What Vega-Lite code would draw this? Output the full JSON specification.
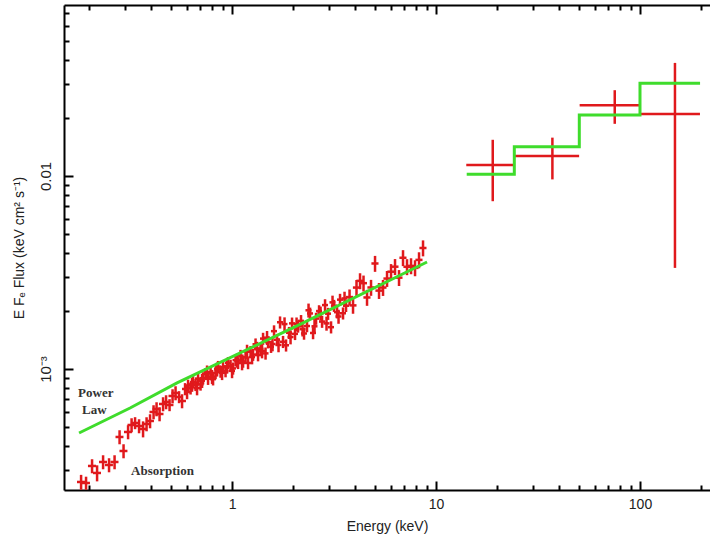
{
  "$schema": "https://vega.github.io/schema/vega-lite/v6.json",
  "width": 646,
  "height": 485,
  "autosize": {"type": "none"},
  "padding": {"left": 64, "top": 5, "right": 0, "bottom": 46},
  "background": "white",
  "config": {
    "view": {"stroke": null},
    "axis": {
      "grid": false,
      "domainColor": "black",
      "domainWidth": 2,
      "tickColor": "black",
      "tickWidth": 2,
      "labelFont": "Liberation Sans",
      "labelFontSize": 14,
      "labelColor": "#222",
      "titleFont": "Liberation Sans",
      "titleFontSize": 14,
      "titleFontWeight": "normal",
      "titleColor": "#222"
    }
  },
  "datasets": {
    "obs": [
      {"e":0.1819,"de":0.0082,"f":2.597e-4,"df":2.3e-5},
      {"e":0.1924,"de":0.0087,"f":2.566e-4,"df":2.0e-5},
      {"e":0.2059,"de":0.0093,"f":3.144e-4,"df":2.63e-5},
      {"e":0.2179,"de":0.0098,"f":2.892e-4,"df":2.76e-5},
      {"e":0.2332,"de":0.0105,"f":3.297e-4,"df":2.75e-5},
      {"e":0.2494,"de":0.0112,"f":3.181e-4,"df":2.66e-5},
      {"e":0.2655,"de":0.012,"f":3.297e-4,"df":2.75e-5},
      {"e":0.2809,"de":0.0126,"f":4.443e-4,"df":3.71e-5},
      {"e":0.2938,"de":0.0132,"f":3.759e-4,"df":3.14e-5},
      {"e":0.3092,"de":0.0139,"f":4.716e-4,"df":3.94e-5},
      {"e":0.3217,"de":0.0145,"f":5.126e-4,"df":4.28e-5},
      {"e":0.3346,"de":0.0151,"f":5.25e-4,"df":3.76e-5},
      {"e":0.35,"de":0.0158,"f":5.066e-4,"df":4.23e-5},
      {"e":0.3662,"de":0.0165,"f":4.887e-4,"df":4.66e-5},
      {"e":0.381,"de":0.0171,"f":5.188e-4,"df":4.33e-5},
      {"e":0.3963,"de":0.0178,"f":5.377e-4,"df":4.49e-5},
      {"e":0.4123,"de":0.0186,"f":5.987e-4,"df":5.0e-5},
      {"e":0.4265,"de":0.0192,"f":6.204e-4,"df":5.18e-5},
      {"e":0.4412,"de":0.0199,"f":5.845e-4,"df":4.88e-5},
      {"e":0.459,"de":0.0207,"f":6.587e-4,"df":5.5e-5},
      {"e":0.4748,"de":0.0214,"f":6.745e-4,"df":5.63e-5},
      {"e":0.4939,"de":0.0222,"f":6.509e-4,"df":4.66e-5},
      {"e":0.5109,"de":0.023,"f":7.246e-4,"df":6.05e-5},
      {"e":0.5285,"de":0.0238,"f":7.509e-4,"df":6.27e-5},
      {"e":0.5498,"de":0.0247,"f":7.16e-4,"df":5.13e-5},
      {"e":0.5687,"de":0.0256,"f":6.826e-4,"df":5.7e-5},
      {"e":0.5883,"de":0.020,"f":7.877e-4,"df":5.7e-5},
      {"e":0.6017,"de":0.020,"f":7.600e-4,"df":6.3e-5},
      {"e":0.6086,"de":0.021,"f":8.214e-4,"df":5.9e-5},
      {"e":0.6261,"de":0.021,"f":7.943e-4,"df":5.7e-5},
      {"e":0.6366,"de":0.022,"f":8.304e-4,"df":6.9e-5},
      {"e":0.644,"de":0.022,"f":8.553e-4,"df":6.2e-5},
      {"e":0.6625,"de":0.023,"f":8.283e-4,"df":6.0e-5},
      {"e":0.6736,"de":0.023,"f":7.962e-4,"df":6.6e-5},
      {"e":0.6813,"de":0.023,"f":8.918e-4,"df":6.4e-5},
      {"e":0.7008,"de":0.024,"f":8.323e-4,"df":6.0e-5},
      {"e":0.7128,"de":0.024,"f":8.698e-4,"df":7.3e-5},
      {"e":0.7208,"de":0.025,"f":8.959e-4,"df":6.5e-5},
      {"e":0.7413,"de":0.025,"f":9.432e-4,"df":6.8e-5},
      {"e":0.7542,"de":0.026,"f":9.625e-4,"df":8.0e-5},
      {"e":0.7627,"de":0.026,"f":8.906e-4,"df":6.4e-5},
      {"e":0.7846,"de":0.027,"f":9.478e-4,"df":6.8e-5},
      {"e":0.798,"de":0.027,"f":9.123e-4,"df":7.6e-5},
      {"e":0.807,"de":0.027,"f":8.855e-4,"df":6.4e-5},
      {"e":0.83,"de":0.028,"f":9.535e-4,"df":6.9e-5},
      {"e":0.8443,"de":0.029,"f":9.963e-4,"df":8.3e-5},
      {"e":0.854,"de":0.029,"f":1.0266e-3,"df":7.4e-5},
      {"e":0.8783,"de":0.030,"f":9.705e-4,"df":7.0e-5},
      {"e":0.8933,"de":0.030,"f":9.556e-4,"df":8.0e-5},
      {"e":0.9034,"de":0.031,"f":1.0205e-3,"df":7.3e-5},
      {"e":0.9292,"de":0.032,"f":9.752e-4,"df":7.0e-5},
      {"e":0.9452,"de":0.032,"f":1.0316e-3,"df":8.6e-5},
      {"e":0.9559,"de":0.033,"f":1.0755e-3,"df":7.7e-5},
      {"e":0.9832,"de":0.033,"f":1.0414e-3,"df":7.5e-5},
      {"e":1.0,"de":0.034,"f":9.777e-4,"df":8.2e-5},
      {"e":1.0113,"de":0.034,"f":1.0072e-3,"df":7.3e-5},
      {"e":1.0403,"de":0.035,"f":1.1107e-3,"df":8.0e-5},
      {"e":1.0581,"de":0.036,"f":1.1082e-3,"df":9.3e-5},
      {"e":1.0701,"de":0.036,"f":1.0755e-3,"df":7.7e-5},
      {"e":1.1006,"de":0.037,"f":1.172e-3,"df":8.4e-5},
      {"e":1.1195,"de":0.038,"f":1.0742e-3,"df":9.0e-5},
      {"e":1.1323,"de":0.038,"f":1.0937e-3,"df":7.9e-5},
      {"e":1.1647,"de":0.040,"f":1.1497e-3,"df":8.3e-5},
      {"e":1.1844,"de":0.040,"f":1.2323e-3,"df":1.03e-4},
      {"e":1.198,"de":0.041,"f":1.0742e-3,"df":7.7e-5},
      {"e":1.2323,"de":0.042,"f":1.2278e-3,"df":8.8e-5},
      {"e":1.2531,"de":0.043,"f":1.1526e-3,"df":9.6e-5},
      {"e":1.2675,"de":0.043,"f":1.1875e-3,"df":8.6e-5},
      {"e":1.3038,"de":0.044,"f":1.3428e-3,"df":9.7e-5},
      {"e":1.3259,"de":0.045,"f":1.2757e-3,"df":1.07e-4},
      {"e":1.341,"de":0.046,"f":1.1803e-3,"df":8.5e-5},
      {"e":1.3795,"de":0.047,"f":1.2709e-3,"df":9.2e-5},
      {"e":1.403,"de":0.048,"f":1.238e-3,"df":1.03e-4},
      {"e":1.4191,"de":0.048,"f":1.437e-3,"df":1.03e-4},
      {"e":1.4596,"de":0.050,"f":1.2046e-3,"df":8.7e-5},
      {"e":1.4844,"de":0.050,"f":1.4527e-3,"df":1.21e-4},
      {"e":1.5014,"de":0.051,"f":1.3769e-3,"df":9.9e-5},
      {"e":1.5529,"de":0.053,"f":1.3047e-3,"df":9.4e-5},
      {"e":1.5791,"de":0.054,"f":1.3474e-3,"df":1.13e-4},
      {"e":1.6064,"de":0.055,"f":1.5703e-3,"df":1.13e-4},
      {"e":1.6617,"de":0.056,"f":1.4166e-3,"df":1.02e-4},
      {"e":1.6899,"de":0.057,"f":1.3317e-3,"df":1.11e-4},
      {"e":1.7189,"de":0.058,"f":1.7458e-3,"df":1.26e-4},
      {"e":1.7783,"de":0.060,"f":1.3833e-3,"df":1.0e-4},
      {"e":1.8085,"de":0.061,"f":1.7083e-3,"df":1.43e-4},
      {"e":1.8394,"de":0.063,"f":1.3268e-3,"df":9.6e-5},
      {"e":1.9028,"de":0.065,"f":1.5406e-3,"df":1.11e-4},
      {"e":1.9355,"de":0.066,"f":1.4632e-3,"df":1.22e-4},
      {"e":1.9683,"de":0.067,"f":1.723e-3,"df":1.24e-4},
      {"e":2.036,"de":0.069,"f":1.5205e-3,"df":1.09e-4},
      {"e":2.0716,"de":0.070,"f":1.7063e-3,"df":1.42e-4},
      {"e":2.106,"de":0.072,"f":1.6622e-3,"df":1.2e-4},
      {"e":2.1786,"de":0.074,"f":1.775e-3,"df":1.28e-4},
      {"e":2.2163,"de":0.075,"f":1.6077e-3,"df":1.34e-4},
      {"e":2.2535,"de":0.077,"f":1.5276e-3,"df":1.1e-4},
      {"e":2.3311,"de":0.079,"f":1.6702e-3,"df":1.2e-4},
      {"e":2.3714,"de":0.081,"f":2.0142e-3,"df":1.68e-4},
      {"e":2.4127,"de":0.082,"f":1.9396e-3,"df":1.4e-4},
      {"e":2.4955,"de":0.085,"f":1.5367e-3,"df":1.11e-4},
      {"e":2.5374,"de":0.086,"f":1.6641e-3,"df":1.39e-4},
      {"e":2.5815,"de":0.088,"f":1.8243e-3,"df":1.31e-4},
      {"e":2.6703,"de":0.091,"f":1.9953e-3,"df":1.44e-4},
      {"e":2.7158,"de":0.092,"f":1.9441e-3,"df":1.62e-4},
      {"e":2.7622,"de":0.094,"f":1.7604e-3,"df":1.27e-4},
      {"e":2.8573,"de":0.097,"f":2.1437e-3,"df":1.54e-4},
      {"e":2.9053,"de":0.099,"f":1.723e-3,"df":1.44e-4},
      {"e":2.9556,"de":0.100,"f":1.9347e-3,"df":1.39e-4},
      {"e":3.0574,"de":0.104,"f":1.6467e-3,"df":1.19e-4},
      {"e":3.1089,"de":0.106,"f":2.2136e-3,"df":1.85e-4},
      {"e":3.1623,"de":0.108,"f":2.1281e-3,"df":1.53e-4},
      {"e":3.2711,"de":0.111,"f":1.9698e-3,"df":1.42e-4},
      {"e":3.3273,"de":0.113,"f":1.8707e-3,"df":1.56e-4},
      {"e":3.3837,"de":0.115,"f":2.2865e-3,"df":1.65e-4},
      {"e":3.4999,"de":0.119,"f":1.9441e-3,"df":1.4e-4},
      {"e":3.5602,"de":0.121,"f":2.3195e-3,"df":1.94e-4},
      {"e":3.6207,"de":0.123,"f":2.1257e-3,"df":1.53e-4},
      {"e":3.767,"de":0.15,"f":2.358e-3,"df":2.24e-4},
      {"e":3.9183,"de":0.157,"f":2.1355e-3,"df":2.03e-4},
      {"e":4.0756,"de":0.163,"f":2.6412e-3,"df":2.51e-4},
      {"e":4.2412,"de":0.17,"f":2.8612e-3,"df":2.72e-4},
      {"e":4.4112,"de":0.176,"f":2.7838e-3,"df":2.64e-4},
      {"e":4.5894,"de":0.184,"f":2.3471e-3,"df":2.23e-4},
      {"e":4.8011,"de":0.192,"f":2.6443e-3,"df":2.51e-4},
      {"e":5.0234,"de":0.201,"f":3.5203e-3,"df":3.34e-4},
      {"e":5.2554,"de":0.21,"f":2.5474e-3,"df":2.42e-4},
      {"e":5.4979,"de":0.22,"f":2.6412e-3,"df":2.51e-4},
      {"e":5.752,"de":0.23,"f":2.9406e-3,"df":2.79e-4},
      {"e":6.0176,"de":0.241,"f":3.192e-3,"df":3.03e-4},
      {"e":6.2951,"de":0.252,"f":3.3884e-3,"df":3.22e-4},
      {"e":6.5858,"de":0.263,"f":2.9727e-3,"df":2.82e-4},
      {"e":6.8897,"de":0.276,"f":3.7686e-3,"df":3.58e-4},
      {"e":7.2078,"de":0.288,"f":3.3844e-3,"df":3.22e-4},
      {"e":7.5423,"de":0.302,"f":3.4213e-3,"df":3.25e-4},
      {"e":7.8904,"de":0.316,"f":3.3404e-3,"df":3.17e-4},
      {"e":8.2547,"de":0.33,"f":3.6752e-3,"df":3.49e-4},
      {"e":8.6357,"de":0.345,"f":4.2354e-3,"df":4.02e-4},
      {"e":18.97,"de":4.9,"f":0.0114,"df":0.004},
      {"e":37.2,"de":13.1,"f":0.0127,"df":0.0031},
      {"e":75.2,"de":24.6,"f":0.02323,"df":0.0046},
      {"e":148.4,"de":48.4,"f":0.02094,"df":0.0176}
    ],
    "model_soft": [
      {"e":0.1778,"f":4.659e-4},
      {"e":0.3162,"f":6.279e-4},
      {"e":0.5375,"f":8.463e-4},
      {"e":2.154,"f":1.7024e-3},
      {"e":9.035,"f":3.584e-3}
    ],
    "model_hard": [
      {"e":14.14,"f":0.0102},
      {"e":24.2,"f":0.01419},
      {"e":50.4,"f":0.0207},
      {"e":100,"f":0.0302},
      {"e":197,"f":0.0302}
    ],
    "notes": [
      {"e":0.1758,"f":7.509e-4,"t":"Power"},
      {"e":0.184,"f":6.133e-4,"t":"Law"},
      {"e":0.3198,"f":2.962e-4,"t":"Absorption"}
    ]
  },
  "resolve": {"axis": {"x": "independent", "y": "independent"}},
  "layer": [
    {
      "data": {"name": "obs"},
      "mark": {"type": "errorbar", "color": "#e0191c", "thickness": 2.5},
      "encoding": {
        "x": {"field": "e", "type": "quantitative", "scale": {"type": "log", "domain": [0.15, 220.4], "nice": false}, "axis": null},
        "y": {"field": "f", "type": "quantitative", "scale": {"type": "log", "domain": [2.36e-4, 0.0769], "nice": false}, "axis": null},
        "yError": {"field": "df"}
      }
    },
    {
      "data": {"name": "obs"},
      "mark": {"type": "errorbar", "color": "#e0191c", "thickness": 2.5},
      "encoding": {
        "y": {"field": "f", "type": "quantitative", "scale": {"type": "log", "domain": [2.36e-4, 0.0769], "nice": false}, "axis": null},
        "x": {"field": "e", "type": "quantitative", "scale": {"type": "log", "domain": [0.15, 220.4], "nice": false}, "axis": null},
        "xError": {"field": "de"}
      }
    },
    {
      "data": {"name": "model_soft"},
      "mark": {"type": "line", "color": "#3fdc2c", "strokeWidth": 3},
      "encoding": {
        "x": {"field": "e", "type": "quantitative", "scale": {"type": "log", "domain": [0.15, 220.4], "nice": false},
          "axis": {
            "orient": "bottom",
            "title": "Energy (keV)",
            "values": [0.2,0.3,0.4,0.5,0.6,0.7,0.8,0.9,1,2,3,4,5,6,7,8,9,10,20,30,40,50,60,70,80,90,100,200],
            "labelExpr": "datum.value == 1 ? '1' : datum.value == 10 ? '10' : datum.value == 100 ? '100' : ''",
            "tickSize": {"condition": {"test": "datum.value == 1 || datum.value == 10 || datum.value == 100", "value": -9}, "value": -5},
            "labelPadding": 16,
            "labelFlush": false,
            "labelOverlap": false,
            "titlePadding": 4
          }
        },
        "y": {"field": "f", "type": "quantitative", "scale": {"type": "log", "domain": [2.36e-4, 0.0769], "nice": false},
          "axis": {
            "orient": "left",
            "title": "E F\u2091 Flux (keV cm\u00b2 s\u207b\u00b9)",
            "values": [3e-4,4e-4,5e-4,6e-4,7e-4,8e-4,9e-4,0.001,0.002,0.003,0.004,0.005,0.006,0.007,0.008,0.009,0.01,0.02,0.03,0.04,0.05,0.06,0.07],
            "labelExpr": "datum.value == 0.01 ? '0.01' : datum.value == 0.001 ? '10\u207b\u00b3' : ''",
            "labelAngle": -90,
            "labelFontSize": 15,
            "tickSize": {"condition": {"test": "datum.value == 0.01 || datum.value == 0.001", "value": -9}, "value": -5},
            "labelPadding": 20,
            "labelFlush": false,
            "labelOverlap": false,
            "titlePadding": 8
          }
        }
      }
    },
    {
      "data": {"name": "model_hard"},
      "mark": {"type": "line", "color": "#3fdc2c", "strokeWidth": 3, "interpolate": "step-after"},
      "encoding": {
        "x": {"field": "e", "type": "quantitative", "scale": {"type": "log", "domain": [0.15, 220.4], "nice": false},
          "axis": {
            "orient": "top",
            "title": null,
            "labels": false,
            "values": [0.2,0.3,0.4,0.5,0.6,0.7,0.8,0.9,1,2,3,4,5,6,7,8,9,10,20,30,40,50,60,70,80,90,100,200],
            "tickSize": {"condition": {"test": "datum.value == 1 || datum.value == 10 || datum.value == 100", "value": -9}, "value": -5}
          }
        },
        "y": {"field": "f", "type": "quantitative", "scale": {"type": "log", "domain": [2.36e-4, 0.0769], "nice": false}, "axis": null}
      }
    },
    {
      "data": {"name": "notes"},
      "mark": {"type": "text", "align": "left", "baseline": "middle", "font": "Liberation Serif", "fontWeight": "bold", "fontSize": 13, "color": "#333"},
      "encoding": {
        "x": {"field": "e", "type": "quantitative", "scale": {"type": "log", "domain": [0.15, 220.4], "nice": false}, "axis": null},
        "y": {"field": "f", "type": "quantitative", "scale": {"type": "log", "domain": [2.36e-4, 0.0769], "nice": false}, "axis": null},
        "text": {"field": "t", "type": "nominal"}
      }
    }
  ]
}
